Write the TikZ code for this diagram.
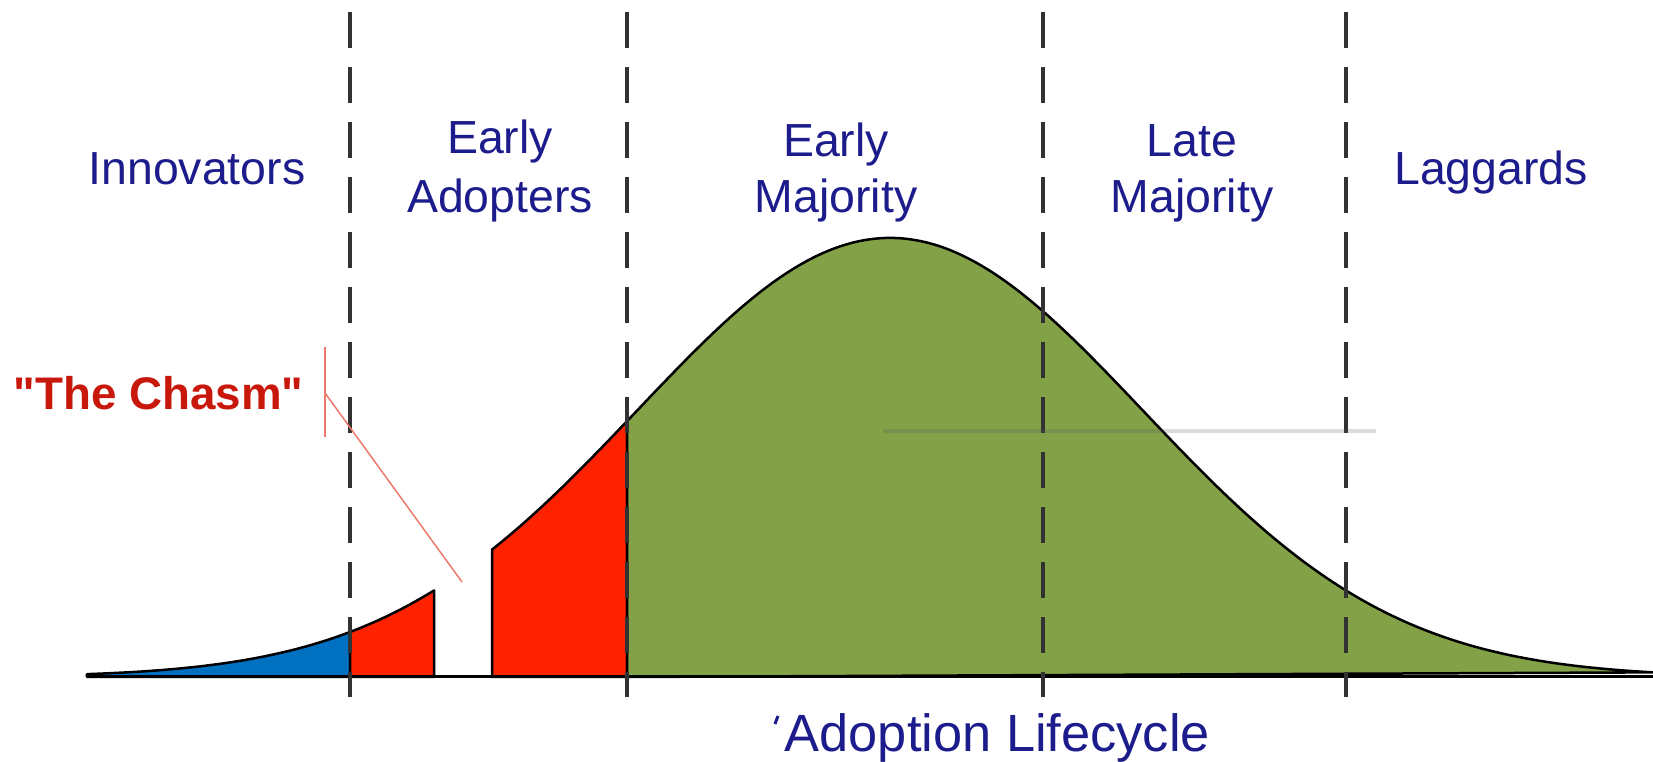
\documentclass[tikz,border=0pt]{standalone}
\usepackage{fontspec}
\setmainfont{Liberation Sans}
\definecolor{navy}{RGB}{28,28,140}
\definecolor{chasmred}{RGB}{200,24,12}
\definecolor{redfill}{RGB}{255,34,0}
\definecolor{bluefill}{RGB}{0,112,192}
\definecolor{greenfill}{RGB}{131,161,71}
\definecolor{calloutred}{RGB}{236,122,106}
\definecolor{dashgray}{RGB}{50,50,50}
\begin{document}
\begin{tikzpicture}[x=0.01cm,y=-0.01cm,
  declare function={bell(\x)=677-439*exp(-((\x-890)/253)^2/2);},
  area/.style={draw=black,line width=0.025cm,line join=round},
  dashline/.style={draw=dashgray,line width=0.04cm,dash pattern=on 0.36cm off 0.19cm},
  lbl/.style={text=navy,inner sep=0,anchor=base,font=\fontsize{13.2pt}{15pt}\selectfont},
  callout/.style={draw=calloutred,line width=0.015cm}]
\useasboundingbox (0,0) rectangle (1653,762);
% areas under the bell curve
\filldraw[area,fill=bluefill] (87,677) -- plot[domain=87:350,samples=40,smooth] (\x,{bell(\x)}) -- (350,677) -- cycle;
\filldraw[area,fill=redfill] (350,677) -- plot[domain=350:434,samples=15,smooth] (\x,{bell(\x)}) -- (434,677) -- cycle;
\filldraw[area,fill=redfill] (492,677) -- plot[domain=492:627,samples=20,smooth] (\x,{bell(\x)}) -- (627,677) -- cycle;
\filldraw[area,fill=greenfill] (627,677) -- plot[domain=627:1653,samples=120,smooth] (\x,{bell(\x)}) -- cycle;
% baseline
\draw[black,line width=0.03cm] (87,677) -- (1653,677);
% dashed separators
\foreach \xx in {350,627,1043,1346} \draw[dashline] (\xx,12) -- (\xx,697);
% grey horizontal line
\draw[draw={rgb,255:red,88;green,88;blue,88},opacity=0.21,line width=0.04cm] (883,431) -- (1376,431);
% callout
\coordinate (cv1) at (325,347);
\coordinate (cv2) at (325,437);
\coordinate (cd1) at (325,393);
\coordinate (cd2) at (462,582);
\draw[callout] (cv1) -- (cv2);
\draw[callout] (cd1) -- (cd2);
\node[anchor=base west,inner sep=0,text=chasmred,font=\bfseries\fontsize{13.0pt}{15pt}\selectfont] (chasm) at (13,410) {\textquotedbl The Chasm\textquotedbl};
% labels
\node[lbl] (inn) at (197,185) {Innovators};
\node[lbl] (ea1) at (500,154) {Early};
\node[lbl] (ea2) at (500,213) {Adopters};
\node[lbl] (em1) at (836,157) {Early};
\node[lbl] (em2) at (836,213) {Majority};
\node[lbl] (lm1) at (1192,157) {Late};
\node[lbl] (lm2) at (1192,213) {Majority};
\node[lbl] (lag) at (1491,185) {Laggards};
\node[text=navy,inner sep=0,anchor=base west,font=\fontsize{14.9pt}{17pt}\selectfont] (life) at (784,752) {Adoption Lifecycle};
\draw[navy,line width=0.03cm] (778,716) -- (775,724);
\end{tikzpicture}
\end{document}
